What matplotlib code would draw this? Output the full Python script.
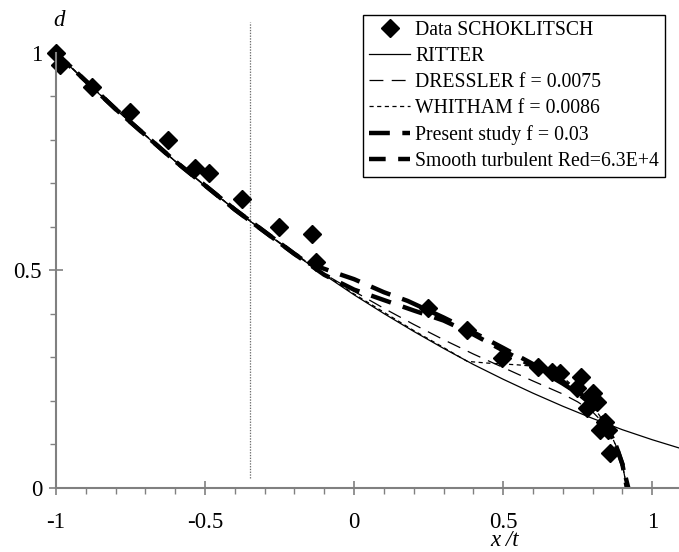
import matplotlib
matplotlib.use("Agg")
import matplotlib.pyplot as plt
import numpy as np

plt.rcParams['font.family'] = ['Liberation Serif', 'DejaVu Serif']
plt.rcParams['axes.unicode_minus'] = False
plt.rcParams['lines.scale_dashes'] = False

# ---- data ----
data_x = [-1.0, -0.987, -0.879, -0.752, -0.624, -0.534, -0.487, -0.376, -0.252, -0.141,
          -0.128, 0.248, 0.379, 0.497, 0.617, 0.664, 0.691, 0.762, 0.748, 0.802,
          0.815, 0.782, 0.842, 0.826, 0.852, 0.859]
data_y = [1.0, 0.972, 0.922, 0.864, 0.800, 0.736, 0.724, 0.664, 0.600, 0.584,
          0.520, 0.414, 0.363, 0.299, 0.278, 0.267, 0.264, 0.255, 0.230, 0.218,
          0.198, 0.184, 0.152, 0.133, 0.133, 0.080]

ritter_x = [-1.0, -0.9, -0.8, -0.7, -0.6, -0.5, -0.4, -0.3, -0.2, -0.1, 0.0, 0.1, 0.2,
            0.3, 0.4, 0.5, 0.6, 0.7, 0.8, 0.9, 1.0, 1.1, 1.2]
ritter_y = [1.000, 0.934, 0.871, 0.810, 0.751, 0.694, 0.640, 0.588, 0.538, 0.490, 0.444,
            0.401, 0.360, 0.321, 0.284, 0.250, 0.218, 0.188, 0.160, 0.134, 0.111, 0.090, 0.071]

dressler_x = [-1.0, -0.8, -0.6, -0.4, -0.2, -0.1, 0.0, 0.1, 0.2, 0.3, 0.4, 0.5, 0.6,
              0.7, 0.75, 0.8, 0.85, 0.88, 0.9, 0.915]
dressler_y = [1.000, 0.871, 0.751, 0.640, 0.539, 0.492, 0.452, 0.413, 0.376, 0.341, 0.308,
              0.277, 0.246, 0.216, 0.198, 0.175, 0.140, 0.095, 0.055, 0.0]

whitham_x = [-1.0, -0.8, -0.6, -0.4, -0.2, 0.0, 0.2, 0.3, 0.38, 0.45, 0.55, 0.6, 0.65,
             0.7, 0.75, 0.8, 0.85, 0.88, 0.9, 0.915]
whitham_y = [1.000, 0.871, 0.751, 0.640, 0.538, 0.446, 0.362, 0.323, 0.291, 0.287, 0.283,
             0.280, 0.272, 0.255, 0.225, 0.190, 0.140, 0.095, 0.055, 0.0]

present_x = [-1.0, -0.8, -0.6, -0.4, -0.2, -0.1, 0.0, 0.1, 0.2, 0.3, 0.4, 0.5, 0.6,
             0.7, 0.75, 0.8, 0.85, 0.88, 0.9, 0.915]
present_y = [1.000, 0.871, 0.751, 0.640, 0.538, 0.490, 0.456, 0.432, 0.408, 0.385, 0.353,
             0.316, 0.280, 0.240, 0.218, 0.190, 0.140, 0.095, 0.055, 0.0]

smooth_x = [-1.0, -0.8, -0.6, -0.4, -0.2, -0.15, -0.06, 0.0, 0.1, 0.18, 0.3, 0.4, 0.5,
            0.6, 0.7, 0.75, 0.8, 0.85, 0.88, 0.9, 0.92]
smooth_y = [1.000, 0.871, 0.751, 0.640, 0.538, 0.516, 0.494, 0.480, 0.450, 0.430, 0.392,
            0.358, 0.322, 0.285, 0.245, 0.222, 0.195, 0.142, 0.095, 0.055, 0.0]

x_ticks = [-1, -0.5, 0, 0.5, 1]
x_labels = ['-1', '-0.5', '0', '0.5', '1']
y_ticks = [0, 0.5, 1]
y_labels = ['0', '0.5', '1']
vline_x = -0.35

# ---- figure ----
fig = plt.figure(figsize=(6.79, 5.52), dpi=100)
W, H = 679, 552
x0, x1 = 56, 679
y0, y1 = 488, 22.5
ax = fig.add_axes([x0 / W, 1 - y0 / H, (x1 - x0) / W, (y0 - y1) / H])
ax.set_xlim(-1, 1.09)
ax.set_ylim(0, 1.07)

axis_col = '#808080'

ax.plot([vline_x, vline_x], [0.023, 1.07], color='#707070', lw=0.9, ls=(0, (1, 1)), clip_on=False)

ax.plot(ritter_x, ritter_y, color='black', lw=0.9, label='RITTER')
ax.plot(dressler_x, dressler_y, color='black', lw=0.9, ls=(0, (10, 6)), label='DRESSLER f = 0.0075')
ax.plot(whitham_x, whitham_y, color='black', lw=0.9, ls=(0, (3, 2.5)), label='WHITHAM f = 0.0086')
ax.plot(present_x, present_y, color='black', lw=3.2, ls=(0, (15, 9)),
        dash_capstyle='butt', label='Present study f = 0.03')
ax.plot(smooth_x, smooth_y, color='black', lw=3.2, ls=(3, (15, 9)),
        dash_capstyle='butt', label='Smooth turbulent Red=6.3E+4')
ax.plot(data_x, data_y, ls='none', marker='D', ms=9.5, color='black', clip_on=False,
        label='Data SCHOKLITSCH')

for s in ['top', 'right']:
    ax.spines[s].set_visible(False)
ax.spines['left'].set_bounds(0, 1)
for s in ['left', 'bottom']:
    ax.spines[s].set_color(axis_col)
    ax.spines[s].set_linewidth(1.5)

ax.set_xticks(x_ticks)
ax.set_xticklabels(x_labels)
ax.set_yticks(y_ticks)
ax.set_yticklabels(y_labels)
ax.set_xticks(np.arange(-0.9, 1.09, 0.1), minor=True)
ax.set_yticks(np.arange(0.1, 1.0, 0.1), minor=True)
ax.tick_params(which='major', direction='inout', length=10, width=1.2, color=axis_col,
               labelsize=16.5, labelcolor='black')
ax.tick_params(axis='x', which='major', pad=12)
ax.tick_params(axis='y', which='major', pad=5)
ax.tick_params(which='minor', direction='out', length=4.5, width=1.0, color=axis_col)

ax.text(-0.99, 1.075, 'd', fontsize=16.5, style='italic', ha='center', va='center')
fig.text(505 / W, 1 - 541 / H, 'x /t', fontsize=16.5, style='italic', ha='center', va='center')

handles, labels = ax.get_legend_handles_labels()
order = [5, 0, 1, 2, 3, 4]
leg = ax.legend([handles[i] for i in order], [labels[i] for i in order],
                loc='upper left', bbox_to_anchor=(363 / W, 1 - 15 / H),
                bbox_transform=fig.transFigure, fontsize=14.2, frameon=True, fancybox=False,
                edgecolor='black', framealpha=1, handlelength=2.1, handletextpad=0.25,
                borderpad=0.3, borderaxespad=0, labelspacing=0.36, numpoints=1)
leg.get_frame().set_linewidth(1.0)

fig.savefig('out.png', dpi=100)
